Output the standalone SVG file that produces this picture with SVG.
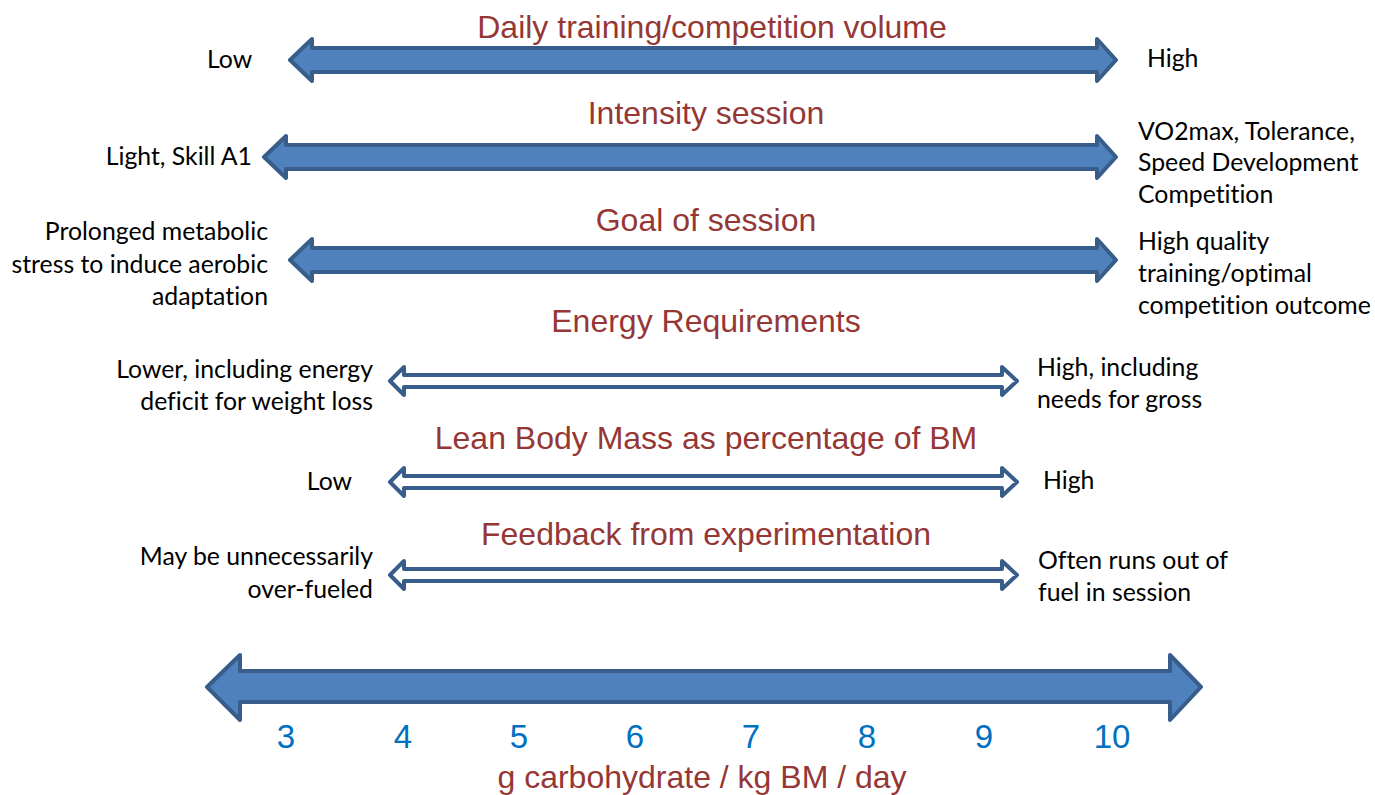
<svg xmlns="http://www.w3.org/2000/svg" width="1375" height="795" viewBox="0 0 1375 795">
  <style>
    .bg { fill: #ffffff; }
    .thick { fill: #4F81BD; stroke: #385D8A; stroke-width: 4; stroke-linejoin: round; }
    .thin { fill: #ffffff; stroke: #385D8A; stroke-width: 4; stroke-linejoin: round; }
    .title { font-family: "Liberation Sans", Arial, sans-serif; font-size: 32px; fill: #953735; text-anchor: middle; }
    .side { font-family: Lato, "Liberation Sans", sans-serif; font-size: 24.8px; fill: #000000; font-variant-ligatures: none; }
    .end { text-anchor: end; }
    .num { font-family: "Liberation Sans", Arial, sans-serif; font-size: 33px; fill: #0070C0; text-anchor: middle; }
  </style>
  <rect class="bg" x="0" y="0" width="1375" height="795"/>

  <g id="connectors">
    <!-- thick double arrows -->
    <polygon class="thick" points="290,60 312,39 312,48 1097,48 1097,39 1116,60 1097,81 1097,72 312,72 312,81"/>
    <polygon class="thick" points="264,157 286,136 286,145 1097,145 1097,136 1116,157 1097,178 1097,169 286,169 286,178"/>
    <polygon class="thick" points="290,260 312,239 312,248 1097,248 1097,239 1116,260 1097,281 1097,272 312,272 312,281"/>
    <!-- thin outlined double arrows -->
    <polygon class="thin" points="390,381 404,367 404,375 1002,375 1002,367 1017,381 1002,395 1002,387 404,387 404,395"/>
    <polygon class="thin" points="390,482 404,468 404,476 1002,476 1002,468 1017,482 1002,496 1002,488 404,488 404,496"/>
    <polygon class="thin" points="390,575 404,561 404,569 1002,569 1002,561 1017,575 1002,589 1002,581 404,581 404,589"/>
    <!-- scale arrow -->
    <polygon class="thick" points="207,687 240,655 240,671 1170,671 1170,655 1201,687 1170,720 1170,702 240,702 240,720"/>
  </g>

  <g id="volume">
    <text class="title" x="712" y="38">Daily training/competition volume</text>
    <text class="side" x="207" y="68">Low</text>
    <text class="side" x="1147" y="67">High</text>
  </g>

  <g id="intensity">
    <text class="title" x="706" y="124">Intensity session</text>
    <text class="side end" x="252" y="165">Light, Skill A1</text>
    <text class="side" x="1138" y="140">VO2max, Tolerance,</text>
    <text class="side" x="1138" y="171">Speed Development</text>
    <text class="side" x="1138" y="203">Competition</text>
  </g>

  <g id="goal">
    <text class="title" x="706" y="231">Goal of session</text>
    <text class="side end" x="268" y="240">Prolonged metabolic</text>
    <text class="side end" x="268" y="273">stress to induce aerobic</text>
    <text class="side end" x="268" y="305">adaptation</text>
    <text class="side" x="1138" y="250">High quality</text>
    <text class="side" x="1138" y="282">training/optimal</text>
    <text class="side" x="1138" y="314">competition outcome</text>
  </g>

  <g id="energy">
    <text class="title" x="706" y="332">Energy Requirements</text>
    <text class="side end" x="373" y="378">Lower, including energy</text>
    <text class="side end" x="373" y="410">deficit for weight loss</text>
    <text class="side" x="1037" y="376">High, including</text>
    <text class="side" x="1037" y="408">needs for gross</text>
  </g>

  <g id="lean-mass">
    <text class="title" x="706" y="449">Lean Body Mass as percentage of BM</text>
    <text class="side end" x="352" y="490">Low</text>
    <text class="side" x="1043" y="489">High</text>
  </g>

  <g id="feedback">
    <text class="title" x="706" y="545">Feedback from experimentation</text>
    <text class="side end" x="373" y="565">May be unnecessarily</text>
    <text class="side end" x="373" y="598">over-fueled</text>
    <text class="side" x="1038" y="569">Often runs out of</text>
    <text class="side" x="1038" y="601">fuel in session</text>
  </g>

  <g id="scale">
    <text class="num" x="286" y="748">3</text>
    <text class="num" x="403" y="748">4</text>
    <text class="num" x="519" y="748">5</text>
    <text class="num" x="635" y="748">6</text>
    <text class="num" x="751" y="748">7</text>
    <text class="num" x="867" y="748">8</text>
    <text class="num" x="984" y="748">9</text>
    <text class="num" x="1112" y="748">10</text>
    <text class="title" x="702" y="788">g carbohydrate / kg BM / day</text>
  </g>
</svg>
